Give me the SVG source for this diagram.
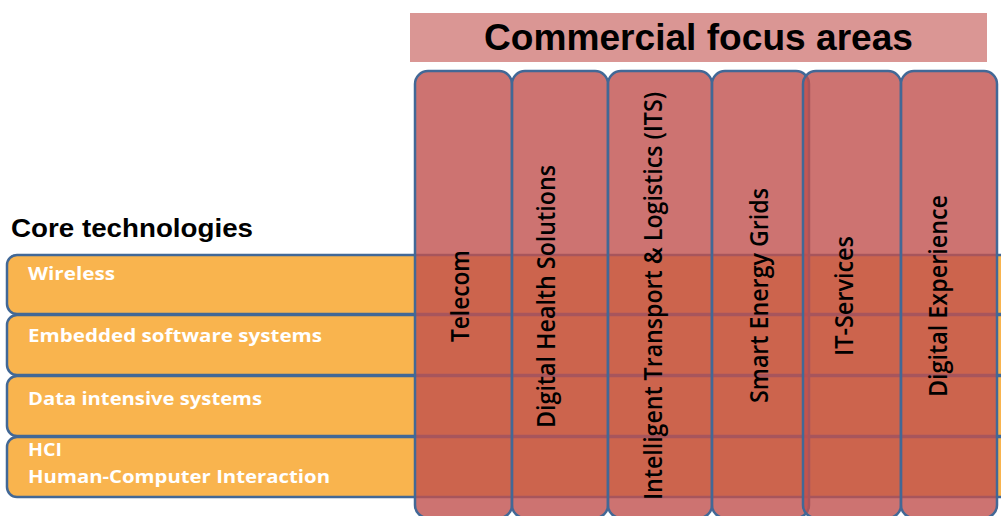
<svg xmlns="http://www.w3.org/2000/svg" width="1001" height="516" viewBox="0 0 1001 516">
<style>
.row{fill:#F9B44E;stroke:#426896;stroke-width:2.5}
.col{fill:#C0504D;fill-opacity:0.8;stroke:#426896;stroke-width:2.5}
.rt{font-family:"Open Sans","Liberation Sans",sans-serif;font-weight:bold;font-size:18px;fill:#FFFFFF}
.ct{font-family:"Open Sans","Liberation Sans",sans-serif;font-size:25px;font-weight:600;fill:#000000;text-anchor:middle}
.h{font-family:"Liberation Sans",Arial,sans-serif;font-weight:bold;fill:#000000}
</style>
<rect x="0" y="0" width="1001" height="516" fill="#FFFFFF"/>
<g id="header">
<rect x="410" y="13" width="577" height="49" fill="#DA9694"/>
<text class="h" x="698.5" y="50" font-size="36" text-anchor="middle" textLength="429" lengthAdjust="spacingAndGlyphs">Commercial focus areas</text>
</g>
<g id="core-title">
<text class="h" x="11" y="237" font-size="26" textLength="242" lengthAdjust="spacingAndGlyphs">Core technologies</text>
</g>
<g id="row-wireless">
<rect class="row" x="7" y="255" width="1020" height="59" rx="10"/>
<text class="rt" x="28" y="280" textLength="87" lengthAdjust="spacingAndGlyphs">Wireless</text>
</g>
<g id="row-embedded">
<rect class="row" x="7" y="315" width="1020" height="60" rx="10"/>
<text class="rt" x="28" y="342" textLength="294" lengthAdjust="spacingAndGlyphs">Embedded software systems</text>
</g>
<g id="row-data">
<rect class="row" x="7" y="376" width="1020" height="60" rx="10"/>
<text class="rt" x="28" y="405" textLength="234" lengthAdjust="spacingAndGlyphs">Data intensive systems</text>
</g>
<g id="row-hci">
<rect class="row" x="7" y="437" width="1020" height="60" rx="10"/>
<text class="rt" x="28" y="456" textLength="34" lengthAdjust="spacingAndGlyphs">HCI</text>
<text class="rt" x="28" y="483" textLength="302" lengthAdjust="spacingAndGlyphs">Human-Computer Interaction</text>
</g>
<g id="col-telecom">
<rect class="col" x="415" y="71" width="97" height="447" rx="13"/>
</g>
<g id="col-health">
<rect class="col" x="512" y="71" width="96" height="447" rx="13"/>
</g>
<g id="col-its">
<rect class="col" x="608" y="71" width="104" height="447" rx="13"/>
</g>
<g id="col-energy">
<rect class="col" x="712" y="71" width="97" height="447" rx="13"/>
</g>
<g id="col-it">
<rect class="col" x="803" y="71" width="98" height="447" rx="13"/>
</g>
<g id="col-dx">
<rect class="col" x="901" y="71" width="96" height="447" rx="13"/>
</g>
<g id="col-labels">
<text class="ct" x="469" y="296" transform="rotate(-90 469 296)" textLength="92" lengthAdjust="spacingAndGlyphs">Telecom</text>
<text class="ct" x="555" y="296.5" transform="rotate(-90 555 296.5)" textLength="263" lengthAdjust="spacingAndGlyphs">Digital Health Solutions</text>
<text class="ct" x="662" y="296" transform="rotate(-90 662 296)" textLength="408" lengthAdjust="spacingAndGlyphs">Intelligent Transport &amp; Logistics (ITS)</text>
<text class="ct" x="768" y="295.5" transform="rotate(-90 768 295.5)" textLength="215" lengthAdjust="spacingAndGlyphs">Smart Energy Grids</text>
<text class="ct" x="853" y="296" transform="rotate(-90 853 296)" textLength="120" lengthAdjust="spacingAndGlyphs">IT-Services</text>
<text class="ct" x="947" y="296" transform="rotate(-90 947 296)" textLength="202" lengthAdjust="spacingAndGlyphs">Digital Experience</text>
</g>
<g id="connectors"/>
</svg>
